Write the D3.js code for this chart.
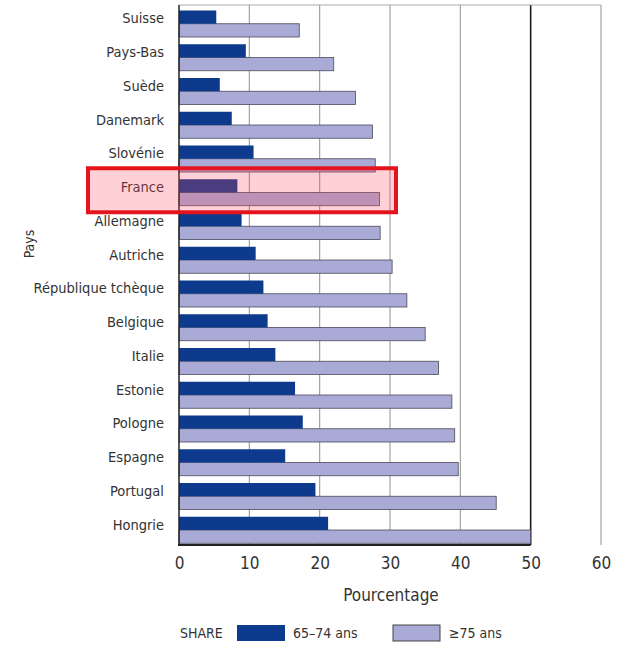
<!DOCTYPE html>
<html><head><meta charset="utf-8">
<script src="https://cdn.jsdelivr.net/npm/d3@7"></script>
<style>
body{margin:0;background:#fff;}
text{font-family:"DejaVu Sans Condensed","DejaVu Sans",sans-serif;font-stretch:condensed;fill:#333;}
</style></head>
<body><svg id="c" width="617" height="645"></svg>
<script>
const countries = ["Suisse","Pays-Bas","Suède","Danemark","Slovénie","France","Allemagne","Autriche","République tchèque","Belgique","Italie","Estonie","Pologne","Espagne","Portugal","Hongrie"];
const age6574 = [5.3,9.5,5.8,7.5,10.6,8.3,8.9,10.9,12.0,12.6,13.7,16.5,17.6,15.1,19.4,21.2];
const age75 = [17.1,22.0,25.1,27.5,27.9,28.5,28.6,30.3,32.4,35.0,36.9,38.8,39.2,39.7,45.1,50.0];
const xTicks = [0,10,20,30,40,50,60];
const seriesNames = ["65–74 ans","≥75 ans"];
const highlighted = "France";

const svg = d3.select("#c");
const mLeft = 179, mRight = 601, mTop = 5, mBottom = 545;
const x = d3.scaleLinear().domain([0,60]).range([mLeft,mRight]);
const y = d3.scaleBand().domain(countries).range([mTop,mBottom]);
const sub = d3.scaleBand().domain(["a","b"]).range([5.5,32]);
const colDark = "#0d3a8c", colLight = "#a9abd6";

// grid
const g = svg.append("g");
g.selectAll("line.grid").data(xTicks.slice(1)).join("line")
  .attr("x1",d=>x(d)).attr("x2",d=>x(d)).attr("y1",mTop).attr("y2",mBottom)
  .attr("stroke",d=>d===50?"#1a1a1a":"#9a9a9a").attr("stroke-width",d=>d===50?1.6:1.1);
g.append("line").attr("x1",x(0)).attr("x2",x(60)).attr("y1",mTop).attr("y2",mTop).attr("stroke","#aaa").attr("stroke-width",1.2);

// bars
const rows = countries.map((c,i)=>({c,a:age6574[i],b:age75[i]}));
svg.append("g").selectAll("rect").data(rows).join("rect")
  .attr("x",x(0)).attr("y",d=>y(d.c)+sub("b")).attr("width",d=>x(d.b)-x(0)).attr("height",sub.bandwidth())
  .attr("fill",colLight).attr("stroke","#4a4a5a").attr("stroke-width",0.8);
svg.append("g").selectAll("rect").data(rows).join("rect")
  .attr("x",x(0)).attr("y",d=>y(d.c)+sub("a")).attr("width",d=>x(d.a)-x(0)).attr("height",sub.bandwidth())
  .attr("fill",colDark);

// axes lines
svg.append("line").attr("x1",x(0)).attr("x2",x(0)).attr("y1",mTop).attr("y2",mBottom).attr("stroke","#222").attr("stroke-width",1.5);
svg.append("line").attr("x1",x(0)-1).attr("x2",x(50)).attr("y1",mBottom).attr("y2",mBottom).attr("stroke","#222").attr("stroke-width",2);

// y labels
const yAxis = d3.axisLeft(y).tickSize(0).tickPadding(15);
const ya = svg.append("g").attr("transform",`translate(${mLeft},0)`).call(yAxis);
ya.select(".domain").remove();
ya.attr("font-family",null).attr("font-size",null);
ya.selectAll("text").attr("font-size",14.5).attr("fill","#333")
  .attr("dy","0.35em").attr("y",-3.5);

// x axis
const xAxis = d3.axisBottom(x).tickValues(xTicks).tickSize(0).tickPadding(12);
const xa = svg.append("g").attr("transform",`translate(0,${mBottom})`).call(xAxis);
xa.select(".domain").remove();
xa.attr("font-family",null).attr("font-size",null);
xa.selectAll("text").attr("font-size",17).attr("fill","#333");

svg.append("text").attr("x",391).attr("y",601).attr("text-anchor","middle").attr("font-size",17).text("Pourcentage");
svg.append("text").attr("transform","translate(34,244) rotate(-90)").attr("text-anchor","middle").attr("font-size",14).text("Pays");

// highlight
const hy = y(highlighted);
svg.append("rect").attr("x",88).attr("y",hy-5.5).attr("width",308).attr("height",44)
  .attr("fill","rgba(255,70,90,0.25)").attr("stroke","#e3141e").attr("stroke-width",4);

// legend
const lg = svg.append("g");
lg.append("text").attr("x",180).attr("y",638).attr("font-size",14).text("SHARE");
lg.append("rect").attr("x",237).attr("y",625).attr("width",48).attr("height",16).attr("fill",colDark);
lg.append("text").attr("x",293).attr("y",638).attr("font-size",14).text(seriesNames[0]);
lg.append("rect").attr("x",393).attr("y",625).attr("width",47).attr("height",16).attr("fill",colLight).attr("stroke","#444").attr("stroke-width",1);
lg.append("text").attr("x",449).attr("y",638).attr("font-size",14).text(seriesNames[1]);
</script></body></html>
